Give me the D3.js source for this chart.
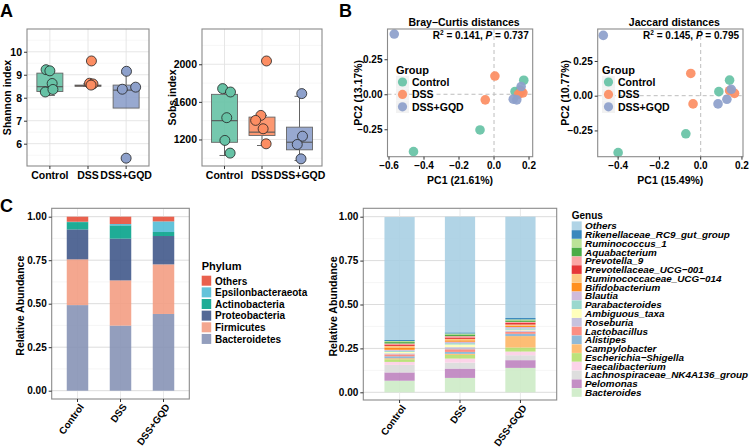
<!DOCTYPE html>
<html><head><meta charset="utf-8">
<script src="https://cdn.jsdelivr.net/npm/d3@7"></script>
<style>
body{margin:0;background:#fff}
text{font-family:"Liberation Sans",Arial,Helvetica,sans-serif;font-weight:bold;fill:#000}
</style></head>
<body><svg id="c" width="752" height="447"></svg>
<script>
// ---------------- DATA ----------------
const groups = ["Control", "DSS", "DSS+GQD"];
const groupColors = ["#66c2a5", "#fc8d62", "#8da0cb"];

// Panel A: Shannon index (box statistics)
const shannonLo  = [8.10, 8.50, 8.35];
const shannonQ1  = [8.27, 8.50, 7.55];
const shannonMed = [8.48, 8.52, 8.33];
const shannonQ3  = [9.07, 8.55, 8.55];
const shannonHi  = [9.15, 8.60, 9.07];
const shannonPts = [[9.22, 9.17, 8.62, 8.25, 8.36], [9.60, 8.63, 8.60, 8.55], [9.15, 8.37, 8.46, 5.37]];
const shannonJit = [[-0.1, 0.0, 0.06, -0.12, 0.08], [0.09, 0.04, 0.13, 0.08], [0.01, -0.1, 0.25, 0.0]];
const shannonTicks = [6, 7, 8, 9, 10];

// Panel A: Sobs index
const sobsLo  = [1030, 1136, 976];
const sobsQ1  = [1170, 1243, 1090];
const sobsMed = [1400, 1278, 1171];
const sobsQ3  = [1680, 1438, 1331];
const sobsHi  = [1727, 1456, 1659];
const sobsPts = [[1741, 1705, 1432, 1190, 1055], [1456, 1403, 1314, 1154, 2035], [1688, 1235, 1147, 994]];
const sobsJit = [[-0.05, 0.16, 0.06, 0.01, 0.15], [-0.03, -0.17, 0.03, 0.11, 0.12], [0.06, 0.08, -0.06, 0.04]];
const sobsTicks = [1200, 1600, 2000];

// Panel B: PCoA coordinates [PC1, PC2]
const brayControl = [[-0.46, -0.41], [-0.08, -0.255], [0.17, 0.10], [0.12, 0.02], [0.15, 0.03]];
const brayDSS     = [[-0.05, -0.04], [0.005, 0.13], [0.165, 0.01], [0.155, 0.02], [0.14, 0.0]];
const brayGQD     = [[-0.57, 0.43], [0.155, 0.055], [0.11, -0.035], [0.13, -0.04]];
const jacControl  = [[-0.40, -0.41], [-0.072, -0.274], [0.088, 0.029], [0.14, 0.112]];
const jacDSS      = [[-0.048, 0.16], [-0.037, -0.059], [0.14, 0.036], [0.164, 0.017]];
const jacGQD      = [[-0.472, 0.434], [0.148, 0.046], [0.127, -0.026], [0.084, -0.059]];
const pcTicksX = [-0.6, -0.4, -0.2, 0.0, 0.2];
const pcTicksY = [-0.25, 0.0, 0.25];

// Panel C: Phylum relative abundance (bottom to top of stack)
const phylumNames = ["Bacteroidetes", "Firmicutes", "Proteobacteria", "Actinobacteria", "Epsilonbacteraeota", "Others"];
const phylumColors = ["#8491B4", "#F39B7F", "#3C5488", "#00A087", "#4DBBD5", "#E64B35"];
const phylumControl = [0.492, 0.263, 0.172, 0.042, 0.002, 0.029];
const phylumDSS     = [0.374, 0.260, 0.240, 0.076, 0.008, 0.042];
const phylumGQD     = [0.441, 0.285, 0.163, 0.023, 0.061, 0.027];

// Panel C: Genus relative abundance (legend order, top of stack first)
const genusNames = ["Others", "Rikenellaceae_RC9_gut_group", "Ruminococcus_1", "Aquabacterium", "Prevotella_9",
  "Prevotellaceae_UCG\u2212001", "Ruminococcaceae_UCG\u2212014", "Bifidobacterium", "Blautia", "Parabacteroides",
  "Ambiguous_taxa", "Roseburia", "Lactobacillus", "Alistipes", "Campylobacter", "Escherichia\u2212Shigella",
  "Faecalibacterium", "Lachnospiraceae_NK4A136_group", "Pelomonas", "Bacteroides"];
const genusColors = ["#a6cee3", "#1f78b4", "#b2df8a", "#33a02c", "#fb9a99", "#e31a1c", "#fdbf6f", "#ff7f00", "#cab2d6",
  "#8dd3c7", "#ffffb3", "#bebada", "#fb8072", "#80b1d3", "#fdb462", "#b3de69", "#fccde5", "#d9d9d9", "#bc80bd", "#ccebc5"];
const genusControl = [0.700, 0.006, 0.006, 0.008, 0.006, 0.008, 0.009, 0.013, 0.006, 0.006, 0.008, 0.006, 0.011, 0.011, 0.006, 0.015, 0.017, 0.043, 0.047, 0.066];
const genusDSS     = [0.659, 0.006, 0.006, 0.009, 0.008, 0.008, 0.008, 0.008, 0.008, 0.008, 0.015, 0.012, 0.015, 0.011, 0.006, 0.021, 0.023, 0.034, 0.053, 0.082];
const genusGQD     = [0.577, 0.008, 0.006, 0.008, 0.006, 0.009, 0.008, 0.006, 0.008, 0.008, 0.004, 0.008, 0.011, 0.013, 0.065, 0.023, 0.021, 0.028, 0.044, 0.139];
const abundTicks = [0, 0.25, 0.5, 0.75, 1];

// ---------------- DRAWING ----------------
const svg = d3.select("#c");
const BORDER = "#8a8a8a", GRID = "#e3e3e3", GRIDMIN = "#f1f1f1";

function label(x, y, t, size, opts = {}) {
  const e = svg.append("text").attr("x", x).attr("y", y).attr("font-size", size).text(t);
  if (opts.anchor) e.attr("text-anchor", opts.anchor);
  if (opts.rotate) e.attr("transform", `rotate(${opts.rotate},${x},${y})`);
  if (opts.italic) e.attr("font-style", "italic");
  return e;
}
function hline(g, x0, x1, y, c, w, dash) {
  const l = g.append("line").attr("x1", x0).attr("x2", x1).attr("y1", y).attr("y2", y).attr("stroke", c).attr("stroke-width", w);
  if (dash) l.attr("stroke-dasharray", dash);
}
function vline(g, x, y0, y1, c, w, dash) {
  const l = g.append("line").attr("x1", x).attr("x2", x).attr("y1", y0).attr("y2", y1).attr("stroke", c).attr("stroke-width", w);
  if (dash) l.attr("stroke-dasharray", dash);
}
function yAxis(x, yScale, ticks, fmt, size) {
  const g = svg.append("g").attr("transform", `translate(${x},0)`)
    .call(d3.axisLeft(yScale).tickValues(ticks).tickFormat(fmt).tickSize(3).tickPadding(2));
  g.select(".domain").remove();
  g.selectAll("line").attr("stroke", "#333");
  g.selectAll("text").attr("font-size", size).attr("fill", "#000").style("font-weight", "bold");
}
function xAxisTicks(y, xs) {
  xs.forEach(x => vline(svg, x, y, y + 3, "#333", 1));
}
function frame(x0, y0, x1, y1) {
  svg.append("rect").attr("x", x0).attr("y", y0).attr("width", x1 - x0).attr("height", y1 - y0)
    .attr("fill", "none").attr("stroke", BORDER).attr("stroke-width", 1.1);
}

// ---- Panel A: boxplots ----
function boxPanel(P, lo, q1, med, q3, hi, pts, jit, ticks, minor, yTitle, titleX) {
  const x = d3.scalePoint().domain(groups).range([P.x0, P.x1]).padding(0.6);
  const y = d3.scaleLinear().domain(P.dom).range([P.y1, P.y0]);
  const g = svg.append("g");
  minor.forEach(v => hline(g, P.x0, P.x1, y(v), GRIDMIN, 0.6));
  ticks.forEach(v => hline(g, P.x0, P.x1, y(v), GRID, 0.9));
  groups.forEach(d => vline(g, x(d), P.y0, P.y1, GRID, 0.9));
  const bw = 26, cw = 10, step = x.step();
  groups.forEach((d, i) => {
    const cx = x(d), col = groupColors[i];
    vline(g, cx, y(q3[i]), y(hi[i]), "#555", 0.9);
    vline(g, cx, y(q1[i]), y(lo[i]), "#555", 0.9);
    hline(g, cx - cw / 2, cx + cw / 2, y(hi[i]), "#555", 0.9);
    hline(g, cx - cw / 2, cx + cw / 2, y(lo[i]), "#555", 0.9);
    g.append("rect").attr("x", cx - bw / 2).attr("y", y(q3[i])).attr("width", bw)
      .attr("height", Math.max(1, y(q1[i]) - y(q3[i]))).attr("fill", col).attr("fill-opacity", 0.9)
      .attr("stroke", "#666").attr("stroke-width", 0.9);
    hline(g, cx - bw / 2, cx + bw / 2, y(med[i]), "#555", 1.1);
    pts[i].forEach((v, k) => {
      g.append("circle").attr("cx", cx + jit[i][k] * step).attr("cy", y(v)).attr("r", 5)
        .attr("fill", col).attr("stroke", "#222").attr("stroke-width", 0.8);
    });
  });
  frame(P.x0, P.y0, P.x1, P.y1);
  yAxis(P.x0, y, ticks, d3.format("d"), 10.5);
  xAxisTicks(P.y1, groups.map(d => x(d)));
  groups.forEach(d => label(x(d), P.y1 + 13, d, 10.5, { anchor: "middle" }));
  label(titleX, (P.y0 + P.y1) / 2, yTitle, 10.5, { anchor: "middle", rotate: -90 });
}
boxPanel({ x0: 27, x1: 149, y0: 29, y1: 166, dom: [5.03, 10.99] }, shannonLo, shannonQ1, shannonMed, shannonQ3, shannonHi,
  shannonPts, shannonJit, shannonTicks, [5.5, 6.5, 7.5, 8.5, 9.5, 10.5], "Shannon index", 11);
boxPanel({ x0: 202, x1: 322, y0: 29, y1: 166, dom: [918, 2375] }, sobsLo, sobsQ1, sobsMed, sobsQ3, sobsHi,
  sobsPts, sobsJit, sobsTicks, [1000, 1400, 1800, 2200], "Sobs index", 176);

// ---- Panel B: PCoA ----
function pcoaPanel(P, sets, title, stat, xTitle, yTitle, ytX, leg) {
  const x = d3.scaleLinear().domain(P.xd).range([P.x0, P.x1]);
  const y = d3.scaleLinear().domain(P.yd).range([P.y1, P.y0]);
  const g = svg.append("g");
  vline(g, x(0), P.y0, P.y1, "#bdbdbd", 1, "4,3");
  hline(g, P.x0, P.x1, y(0), "#bdbdbd", 1, "4,3");
  label(leg.x, leg.y, "Group", 11);
  groups.forEach((d, i) => {
    const cy = leg.y + 8 + i * 12.4;
    g.append("rect").attr("x", leg.x).attr("y", cy - 6.2).attr("width", 13).attr("height", 12.4).attr("fill", "#f2f2f2");
    g.append("circle").attr("cx", leg.x + 6.5).attr("cy", cy).attr("r", 4.6).attr("fill", groupColors[i]).attr("fill-opacity", 0.92);
    label(leg.x + 16, cy + 3.8, d, 10.5);
  });
  sets.forEach((s, i) => s.forEach(p => {
    g.append("circle").attr("cx", x(p[0])).attr("cy", y(p[1])).attr("r", 4.8)
      .attr("fill", groupColors[i]).attr("fill-opacity", 0.92);
  }));
  frame(P.x0, P.y0, P.x1, P.y1);
  yAxis(P.x0, y, pcTicksY, d3.format(".2f"), 10);
  const xt = pcTicksX.filter(v => v >= P.xd[0] && v <= P.xd[1]);
  xAxisTicks(P.y1, xt.map(v => x(v)));
  xt.forEach(v => label(x(v), P.y1 + 12.5, d3.format(".1f")(v), 10, { anchor: "middle" }));
  label((P.x0 + P.x1) / 2, P.y1 + 27, xTitle, 10.5, { anchor: "middle" });
  label(ytX, (P.y0 + P.y1) / 2, yTitle, 10.5, { anchor: "middle", rotate: -90 });
  label((P.x0 + P.x1) / 2 + 4, 26, title, 10.5, { anchor: "middle" });
  const st = label(P.x1 - 4, 39, "", 10, { anchor: "end" });
  st.append("tspan").text("R");
  st.append("tspan").attr("font-size", 6.5).attr("dy", -4).text("2");
  st.append("tspan").attr("dy", 4).text(" = " + stat[0] + ", ");
  st.append("tspan").attr("font-style", "italic").text("P");
  st.append("tspan").text(" = " + stat[1]);
}
pcoaPanel({ x0: 387.5, x1: 532.7, y0: 29, y1: 156.7, xd: [-0.6086, 0.221], yd: [-0.446, 0.466] },
  [brayControl, brayDSS, brayGQD], "Bray\u2212Curtis distances", ["0.141", "0.737"], "PC1 (21.61%)", "PC2 (13.17%)", 362,
  { x: 396, y: 74 });
pcoaPanel({ x0: 597.7, x1: 743, y0: 29, y1: 156.7, xd: [-0.499, 0.205], yd: [-0.439, 0.48] },
  [jacControl, jacDSS, jacGQD], "Jaccard distances", ["0.145", "0.795"], "PC1 (15.49%)", "PC2 (10.77%)", 569,
  { x: 602, y: 74 });

// ---- Panel C: stacked bars ----
function barPanel(P, keys, colors, rows, ytX) {
  const x = d3.scaleBand().domain(groups).range([P.x0, P.x1]).paddingInner(0.5).paddingOuter(0.35);
  const y = d3.scaleLinear().domain([0, 1]).range([P.zero, P.one]);
  const g = svg.append("g");
  [0.125, 0.375, 0.625, 0.875].forEach(v => hline(g, P.x0, P.x1, y(v), GRIDMIN, 0.7));
  abundTicks.forEach(v => hline(g, P.x0, P.x1, y(v), "#dcdcdc", 1));
  groups.forEach(d => vline(g, x(d) + x.bandwidth() / 2, P.y0, P.y1, "#e6e6e6", 0.9));
  const table = groups.map((d, i) => { const o = { group: d }; keys.forEach((k, j) => o[k] = rows[i][j]); return o; });
  const series = d3.stack().keys(keys)(table);
  series.forEach((s, j) => s.forEach(seg => {
    g.append("rect").attr("x", x(seg.data.group)).attr("width", x.bandwidth())
      .attr("y", y(seg[1])).attr("height", Math.max(0, y(seg[0]) - y(seg[1])))
      .attr("fill", colors[j]).attr("fill-opacity", 0.88);
  }));
  frame(P.x0, P.y0, P.x1, P.y1);
  yAxis(P.x0, y, abundTicks, d3.format(".2f"), 10);
  xAxisTicks(P.y1, groups.map(d => x(d) + x.bandwidth() / 2));
  groups.forEach(d => {
    const cx = x(d) + x.bandwidth() / 2 + 4, cy = P.y1 + 6;
    svg.append("text").attr("transform", `translate(${cx},${cy}) rotate(-54)`).attr("text-anchor", "end")
      .attr("dy", "0.35em").attr("font-size", 9.8).text(d);
  });
  label(ytX, (P.zero + P.one) / 2 + 2, "Relative Abundance", 10.5, { anchor: "middle", rotate: -90 });
}
barPanel({ x0: 51.7, x1: 189.3, y0: 208.3, y1: 399, zero: 390.7, one: 216.7 }, phylumNames, phylumColors,
  [phylumControl, phylumDSS, phylumGQD], 24);
const gKeys = genusNames.slice().reverse();
const gCols = genusColors.slice().reverse();
barPanel({ x0: 363.3, x1: 556.7, y0: 208.3, y1: 400, zero: 392.3, one: 216.7 }, gKeys, gCols,
  [genusControl.slice().reverse(), genusDSS.slice().reverse(), genusGQD.slice().reverse()], 337);

// Phylum legend (top: Others)
label(201.7, 270, "Phylum", 11);
phylumNames.slice().reverse().forEach((n, i) => {
  const cy = 280.7 + i * 11.65;
  svg.append("rect").attr("x", 201.7).attr("y", cy - 5).attr("width", 9.5).attr("height", 10)
    .attr("fill", phylumColors[phylumNames.length - 1 - i]).attr("fill-opacity", 0.88);
  label(215, cy + 3.8, n, 10);
});
// Genus legend
label(571.7, 218.5, "Genus", 10);
genusNames.forEach((n, i) => {
  const cy = 225.7 + i * 8.78;
  svg.append("rect").attr("x", 571.7).attr("y", cy - 4.3).attr("width", 10).attr("height", 8.6)
    .attr("fill", genusColors[i]).attr("fill-opacity", 0.88);
  label(585, cy + 3.5, n, 9.9, { italic: true });
});

// panel letters
label(0, 17, "A", 18);
label(339, 17, "B", 18);
label(0, 212, "C", 18);
</script></body></html>
